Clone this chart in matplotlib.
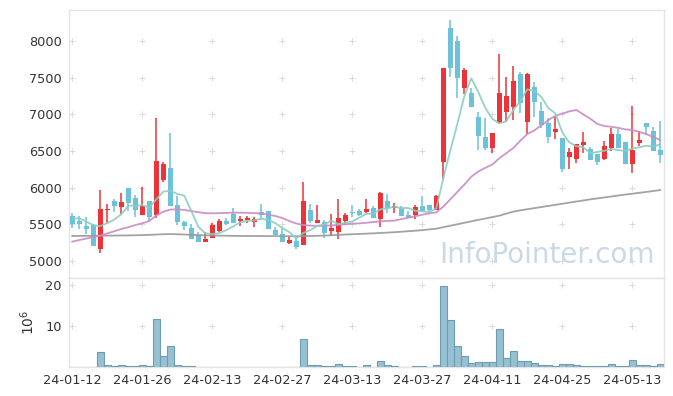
import numpy as np
import pandas as pd
import matplotlib
matplotlib.use('Agg')
import matplotlib.pyplot as plt

# daily candles, trading days 24-01-12 .. 24-05-20 (Korean colour convention: red = up)
open_ = [5613, 5544, 5476, 5485, 5167, 5699, 5817, 5740, 6000, 5858,
         5631, 5822, 5626, 6108, 6267, 5758, 5526, 5445, 5349, 5263,
         5317, 5408, 5545, 5645, 5549, 5558, 5536, 5667, 5681, 5422,
         5363, 5249, 5272, 5222, 5695, 5517, 5531, 5413, 5399, 5545,
         5672, 5686, 5672, 5722, 5567, 5817, 5726, 5726, 5631, 5626,
         5754, 5763, 5699, 6345, 8177, 8000, 7354, 7290, 6963, 6690,
         6545, 6877, 7036, 7104, 7550, 6900, 7372, 7045, 6877, 6763,
         6677, 6418, 6395, 6586, 6522, 6454, 6395, 6536, 6727, 6622,
         6322, 6613, 6877, 6772, 6513]
high = [5658, 5613, 5604, 5499, 5967, 5781, 5840, 5922, 6000, 5895,
        6008, 5822, 6945, 6345, 6740, 5886, 5540, 5508, 5395, 5399,
        5513, 5567, 5590, 5717, 5613, 5608, 5604, 5776, 5681, 5458,
        5454, 5336, 5308, 6072, 5776, 5767, 5554, 5645, 5840, 5658,
        5767, 5708, 5838, 5754, 5945, 5908, 5786, 5749, 5676, 5763,
        5890, 5763, 5895, 7636, 8291, 8068, 7627, 7354, 7031, 6949,
        6745, 7827, 7509, 7660, 7580, 7568, 7445, 7172, 6945, 6968,
        6677, 6545, 6600, 6759, 6550, 6454, 6631, 6809, 6795, 6622,
        7113, 6777, 6877, 6831, 6908]
low = [5445, 5431, 5367, 5208, 5112, 5522, 5667, 5636, 5686, 5604,
       5631, 5545, 5581, 6077, 5754, 5490, 5422, 5304, 5263, 5263,
       5317, 5394, 5490, 5513, 5481, 5513, 5458, 5558, 5440, 5349,
       5254, 5231, 5167, 5222, 5522, 5517, 5308, 5340, 5299, 5485,
       5604, 5617, 5658, 5590, 5463, 5658, 5649, 5617, 5581, 5572,
       5672, 5663, 5699, 6117, 7504, 7227, 7281, 7104, 6513, 6513,
       6472, 6877, 6899, 6920, 7022, 6731, 6963, 6820, 6613, 6663,
       6218, 6249, 6331, 6477, 6377, 6304, 6377, 6500, 6540, 6322,
       6195, 6572, 6718, 6495, 6331]
close = [5508, 5508, 5440, 5208, 5708, 5713, 5754, 5804, 5790, 5699,
         5749, 5595, 6363, 6322, 5754, 5535, 5481, 5304, 5263, 5299,
         5488, 5545, 5504, 5522, 5572, 5590, 5567, 5631, 5440, 5349,
         5263, 5285, 5190, 5817, 5545, 5558, 5376, 5449, 5586, 5626,
         5658, 5631, 5710, 5590, 5926, 5726, 5749, 5617, 5590, 5736,
         5686, 5695, 5881, 7636, 7627, 7491, 7600, 7104, 6699, 6545,
         6745, 7290, 7250, 7456, 7159, 7550, 7172, 6854, 6695, 6799,
         6254, 6486, 6595, 6622, 6377, 6354, 6563, 6727, 6540, 6322,
         6513, 6649, 6831, 6504, 6450]
volume = [0, 0, 0, 0, 3.8, 0.5, 0.25, 0.5, 0.25, 0.25,
          0.5, 0.25, 11.7, 2.7, 5.1, 0.5, 0.25, 0.25, 0, 0,
          0, 0, 0, 0.2, 0, 0, 0, 0.2, 0, 0,
          0, 0, 0, 6.8, 0.5, 0.5, 0.25, 0.25, 0.75, 0.25,
          0.25, 0, 0.5, 0, 1.6, 0.5, 0.25, 0, 0, 0.25,
          0.25, 0, 0.5, 19.8, 11.4, 5.1, 2.7, 1.1, 1.4, 1.4,
          1.4, 9.4, 2.4, 4.1, 1.6, 1.6, 1.1, 0.5, 0.5, 0.25,
          0.75, 0.75, 0.5, 0.25, 0.25, 0.25, 0.25, 0.75, 0.25, 0.25,
          1.9, 0.5, 0.5, 0.25, 0.75]  # x 10^6

# moving averages as drawn (20 / 60 day need history before the window)
ma5_head = [5581, 5581, 5535, 5490]
ma20 = [5263, 5285, 5305, 5325, 5345, 5375, 5405, 5435, 5460, 5490,
        5513, 5545, 5620, 5670, 5700, 5704, 5695, 5680, 5665, 5652,
        5649, 5652, 5655, 5658, 5658, 5656, 5652, 5648, 5630, 5613,
        5585, 5545, 5510, 5490, 5482, 5478, 5480, 5485, 5492, 5500,
        5508, 5512, 5520, 5530, 5540, 5545, 5550, 5570, 5590, 5610,
        5630, 5648, 5663, 5740, 5840, 5940, 6040, 6149, 6220, 6270,
        6315, 6400, 6470, 6540, 6640, 6730, 6780, 6850, 6920, 6980,
        7010, 7040, 7059, 7000, 6940, 6870, 6840, 6830, 6815, 6795,
        6786, 6760, 6730, 6690, 6649]
ma60 = [5340, 5341, 5342, 5343, 5344, 5345, 5346, 5347, 5348, 5350,
        5352, 5355, 5360, 5364, 5366, 5364, 5360, 5356, 5352, 5349,
        5347, 5345, 5343, 5342, 5341, 5340, 5340, 5339, 5338, 5338,
        5338, 5337, 5336, 5338, 5340, 5343, 5346, 5350, 5355, 5360,
        5364, 5368, 5372, 5376, 5381, 5386, 5392, 5398, 5405, 5412,
        5420, 5430, 5440, 5460, 5480, 5500, 5520, 5540, 5560, 5578,
        5598, 5617, 5645, 5672, 5690, 5705, 5720, 5735, 5750, 5765,
        5780, 5795, 5810, 5825, 5840, 5853, 5866, 5879, 5892, 5905,
        5917, 5929, 5941, 5954, 5967]

tick_labels = ['24-01-12', '24-01-26', '24-02-13', '24-02-27', '24-03-13',
               '24-03-27', '24-04-11', '24-04-25', '24-05-13']
price_ticks = [5000, 5500, 6000, 6500, 7000, 7500, 8000]
vol_ticks = [10, 20]

UP = '#ee3338'
DOWN = '#6cc2d8'
FRAME = '#e4e4e4'
TEXT = '#333333'

o = np.array(open_, dtype=float)
c = np.array(close, dtype=float)
x = np.arange(len(c))
ma5 = pd.Series(c).rolling(5).mean().to_numpy()
ma5[:4] = ma5_head

fig = plt.figure(figsize=(6.73, 3.96), dpi=100)
ax = fig.add_axes([0.1022, 0.298, 0.8841, 0.6767])
axv = fig.add_axes([0.1022, 0.072, 0.8841, 0.226], sharex=ax)

xticks = list(range(0, 81, 10))

# grid crosses instead of grid lines
gx, gy = np.meshgrid(xticks, price_ticks)
ax.plot(gx.ravel(), gy.ravel(), '+', color='#dcdcdc', ms=5, mew=0.8, zorder=0)
gx, gy = np.meshgrid(xticks, vol_ticks)
axv.plot(gx.ravel(), gy.ravel(), '+', color='#dcdcdc', ms=5, mew=0.8, zorder=0)

ax.text(0.985, 0.035, 'InfoPointer.com', transform=ax.transAxes, ha='right', va='bottom',
        fontsize=20, color='#c9d9e5', zorder=1)

# candles
colors = np.where(c >= o, UP, DOWN)
ax.vlines(x, low, high, colors=colors, lw=1.1, zorder=3)
body = np.maximum(np.abs(c - o), 12)
ax.bar(x, body, bottom=np.minimum(o, c), width=0.66, color=colors, lw=0, zorder=4)

ax.plot(x, ma60, color='#999999', lw=1.3, alpha=0.9, zorder=5)
ax.plot(x, ma20, color='#c98ac6', lw=1.3, alpha=0.9, zorder=5)
ax.plot(x, ma5, color='#8ccdc2', lw=1.3, alpha=0.9, zorder=5)

ax.set_ylim(4767, 8423)
ax.set_xlim(-0.5, 84.5)
ax.set_yticks(price_ticks)

# volume
axv.bar(x, volume, width=1.0, color='#97c0d1', edgecolor='#6c9db3', lw=0.8, zorder=3)
axv.set_ylim(0, 21.7)
axv.set_yticks(vol_ticks)
axv.set_ylabel(r'$10^6$', fontsize=10, color=TEXT, labelpad=6)
axv.set_xticks(xticks)
axv.set_xticklabels(tick_labels)

for a in (ax, axv):
    for s in a.spines.values():
        s.set_color(FRAME)
        s.set_linewidth(1.0)
    a.tick_params(length=0, labelsize=9.3, colors=TEXT, pad=5)
plt.setp(ax.get_xticklabels(), visible=False)

fig.savefig('out.png', dpi=100, facecolor='white')
